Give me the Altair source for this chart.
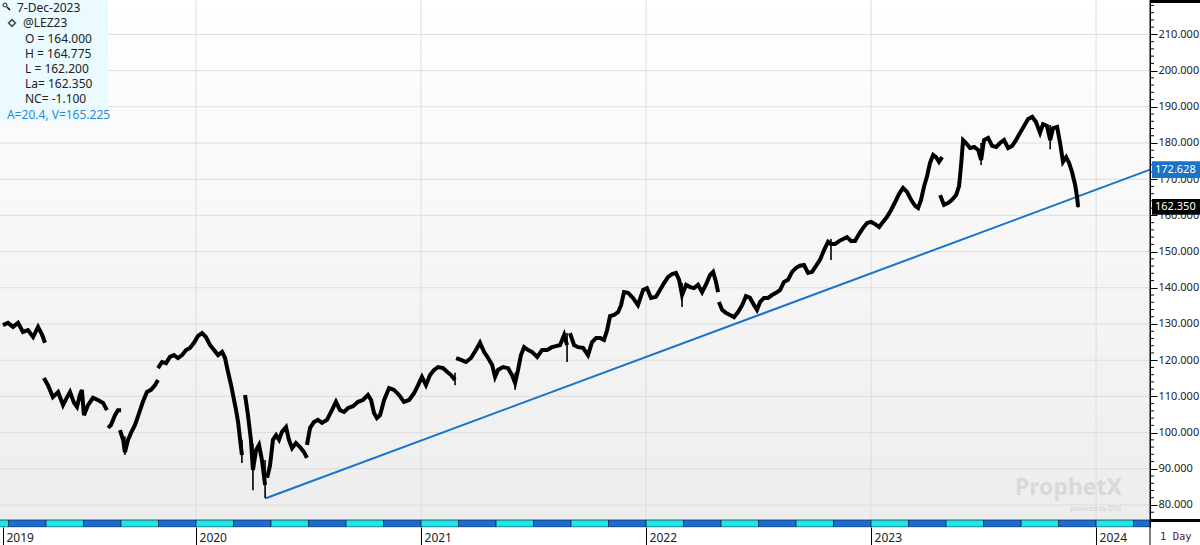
import altair as alt
import pandas as pd

# ---------------- data (decimal year, price) ----------------
seg_t = [
    [2019.142, 2019.164, 2019.187, 2019.209, 2019.231, 2019.253, 2019.276, 2019.298, 2019.316, 2019.329],
    [2019.324, 2019.342, 2019.364, 2019.387, 2019.409, 2019.427, 2019.440, 2019.458, 2019.471, 2019.484,
     2019.493, 2019.502, 2019.520, 2019.542, 2019.564, 2019.587, 2019.604],
    [2019.609, 2019.622, 2019.640, 2019.653, 2019.667],
    [2019.662, 2019.676, 2019.684, 2019.698, 2019.711, 2019.729, 2019.747, 2019.764, 2019.782, 2019.800,
     2019.818, 2019.831],
    [2019.831, 2019.849, 2019.867, 2019.884, 2019.902, 2019.920, 2019.938, 2019.956, 2019.973, 2019.991,
     2020.009, 2020.027, 2020.044, 2020.062, 2020.080, 2020.098, 2020.116, 2020.129, 2020.142, 2020.156,
     2020.169, 2020.178, 2020.187, 2020.196, 2020.204],
    [2020.218, 2020.231, 2020.244, 2020.253, 2020.267, 2020.280, 2020.293, 2020.307],
    [2020.316, 2020.329, 2020.342, 2020.356, 2020.369, 2020.382, 2020.400, 2020.413, 2020.427, 2020.444,
     2020.462, 2020.480, 2020.493],
    [2020.493, 2020.507, 2020.524, 2020.542, 2020.560, 2020.582, 2020.604, 2020.622, 2020.640, 2020.658,
     2020.676, 2020.698, 2020.720, 2020.742, 2020.764, 2020.778, 2020.791, 2020.804, 2020.818, 2020.836,
     2020.858, 2020.880, 2020.902, 2020.924, 2020.947, 2020.969, 2020.987, 2021.004, 2021.022, 2021.040,
     2021.058, 2021.076, 2021.098, 2021.116, 2021.133, 2021.151],
    [2021.156, 2021.178, 2021.200, 2021.222, 2021.244, 2021.262, 2021.280, 2021.298, 2021.316, 2021.329,
     2021.342, 2021.364, 2021.387, 2021.404, 2021.418, 2021.431, 2021.444, 2021.458, 2021.476, 2021.493,
     2021.516, 2021.538, 2021.560, 2021.582, 2021.600, 2021.618, 2021.636, 2021.649],
    [2021.662, 2021.680, 2021.698, 2021.720, 2021.742, 2021.760, 2021.778, 2021.796, 2021.813, 2021.827,
     2021.840, 2021.858, 2021.876, 2021.889, 2021.902, 2021.920, 2021.942, 2021.964, 2021.987, 2022.004,
     2022.022, 2022.044, 2022.062, 2022.080, 2022.098, 2022.116, 2022.133, 2022.147, 2022.160, 2022.178,
     2022.196, 2022.213, 2022.231, 2022.249, 2022.267, 2022.284, 2022.298, 2022.311, 2022.320],
    [2022.324, 2022.338, 2022.356, 2022.373, 2022.391, 2022.409, 2022.427, 2022.444, 2022.462, 2022.480,
     2022.493, 2022.507, 2022.524, 2022.542, 2022.560, 2022.578, 2022.596, 2022.613, 2022.631, 2022.649,
     2022.667, 2022.684, 2022.702, 2022.720, 2022.738, 2022.756, 2022.773, 2022.791, 2022.809, 2022.822,
     2022.840, 2022.858, 2022.876, 2022.893, 2022.911, 2022.929, 2022.947, 2022.964, 2022.982, 2023.000,
     2023.018, 2023.036, 2023.053, 2023.071, 2023.089, 2023.107, 2023.124, 2023.142, 2023.160, 2023.178,
     2023.196, 2023.209, 2023.222, 2023.236, 2023.249, 2023.262, 2023.276, 2023.289, 2023.302, 2023.316],
    [2023.307, 2023.324, 2023.342, 2023.360, 2023.378, 2023.391, 2023.400, 2023.409, 2023.422, 2023.440,
     2023.458, 2023.476, 2023.489, 2023.502, 2023.520, 2023.538, 2023.556, 2023.573, 2023.591, 2023.609,
     2023.627, 2023.644, 2023.662, 2023.680, 2023.698, 2023.716, 2023.733, 2023.751, 2023.764, 2023.782,
     2023.796, 2023.809, 2023.827, 2023.840, 2023.853, 2023.867, 2023.880, 2023.893, 2023.907, 2023.916,
     2023.920],
]
seg_v = [
    [129.7, 130.3, 129.2, 130.3, 127.8, 128.3, 126.4, 129.2, 127.0, 124.8],
    [115.1, 113.1, 109.8, 111.2, 107.6, 109.8, 111.2, 108.2, 107.1, 110.4,
     111.8, 104.8, 107.6, 109.6, 109.0, 108.2, 106.2],
    [101.3, 102.1, 104.8, 106.2, 106.2],
    [100.7, 98.0, 94.6, 98.0, 99.9, 102.1, 105.4, 108.5, 111.2, 111.8, 113.1, 114.5],
    [117.8, 119.5, 119.2, 120.9, 121.4, 120.6, 121.4, 122.8, 123.4, 124.8,
     126.7, 127.5, 126.4, 124.2, 122.8, 121.4, 122.3, 120.6, 116.8, 113.1,
     109.0, 106.2, 102.9, 98.0, 93.8],
    [110.4, 104.8, 98.0, 89.7, 95.2, 96.6, 92.4, 85.5],
    [87.5, 91.0, 98.0, 99.3, 98.0, 100.2, 101.5, 98.0, 95.7, 97.1, 96.0, 94.6, 93.0],
    [96.6, 101.3, 102.9, 103.5, 102.7, 103.5, 106.2, 108.5, 106.2, 105.7,
     106.8, 107.3, 108.5, 109.0, 110.4, 109.0, 105.4, 104.0, 104.8, 109.0,
     112.3, 111.8, 110.4, 108.5, 109.0, 110.9, 113.1, 115.4, 113.1, 115.9,
     117.3, 118.1, 117.8, 116.8, 115.9, 114.5],
    [120.6, 120.1, 119.5, 120.6, 122.8, 124.8, 122.3, 120.6, 118.7, 115.4,
     117.3, 118.1, 117.8, 115.9, 113.7, 117.3, 121.4, 123.6, 122.8, 122.3,
     120.9, 122.8, 122.8, 123.6, 123.9, 124.2, 127.0, 124.2],
    [127.5, 124.2, 123.6, 123.4, 121.4, 125.0, 126.1, 126.1, 125.6, 128.3,
     132.2, 132.5, 133.3, 135.2, 138.8, 138.6, 137.2, 135.2, 139.4, 139.9,
     137.2, 137.5, 139.4, 141.3, 143.0, 143.8, 144.1, 142.2, 138.0, 140.8,
     140.2, 139.9, 140.8, 138.8, 141.0, 143.5, 144.4, 141.6, 138.8],
    [136.1, 133.9, 133.0, 132.5, 131.9, 133.3, 135.2, 137.7, 137.2, 135.2,
     133.9, 136.1, 137.2, 137.2, 138.0, 138.6, 139.4, 141.6, 142.2, 144.4,
     145.5, 146.1, 146.3, 144.1, 144.4, 146.1, 147.7, 150.4, 152.7, 152.1,
     152.1, 152.9, 153.5, 154.0, 152.9, 152.9, 154.9, 156.5, 157.9, 158.2,
     157.6, 156.8, 158.2, 159.6, 161.5, 163.7, 165.9, 167.6, 166.5, 164.3,
     162.6, 162.0, 164.3, 168.1, 170.9, 174.5, 176.7, 176.1, 174.8, 176.1],
    [165.6, 162.9, 163.4, 164.3, 165.6, 168.1, 173.9, 180.8, 180.0, 178.6,
     178.9, 178.1, 175.3, 180.8, 181.4, 179.2, 178.9, 180.0, 180.8, 178.6,
     179.2, 180.8, 182.8, 184.7, 186.6, 187.2, 185.8, 182.8, 185.2, 184.7,
     180.8, 184.1, 184.4, 180.0, 174.8, 176.1, 174.5, 172.0, 168.4, 164.8,
     162.35],
]

spike_t = [2019.684, 2020.204, 2020.253, 2020.307, 2021.151, 2021.418, 2021.649,
           2022.160, 2022.822, 2023.489, 2023.796, 2023.920]
spike_lo = [93.8, 91.6, 84.1, 81.9, 113.1, 111.8, 119.5, 134.7, 147.7, 173.9, 178.3, 162.2]
spike_hi = [99.0, 98.0, 97.0, 92.4, 116.5, 116.5, 127.5, 141.3, 153.5, 180.0, 185.0, 164.8]

trend_t = [2020.307, 2024.2396]
trend_v = [81.8, 172.628]

y_ticks = [80, 90, 100, 110, 120, 130, 140, 150, 160, 170, 180, 190, 200, 210]
year_ticks = [2020, 2021, 2022, 2023, 2024]
x_label_values = [2019.142, 2020, 2021, 2022, 2023, 2024]

last_price = 162.35
trend_last = 172.628

info_lines = ["O = 164.000", "H = 164.775", "L = 162.200", "La= 162.350", "NC= -1.100"]

# ---------------- layout constants ----------------
W, H = 1150, 527
X_MIN, X_MAX = 2019.1289, 2024.2396
Y_MIN, Y_MAX = 73.92, 219.50
FONT = "Noto Sans"

xs = alt.Scale(domain=[X_MIN, X_MAX], nice=False, zero=False)
ys = alt.Scale(domain=[Y_MIN, Y_MAX], nice=False, zero=False)

x_axis = alt.Axis(
    values=x_label_values, labelExpr="'' + floor(datum.value)", orient="bottom",
    domain=False, grid=False, ticks=True, tickSize=18, tickColor="black", tickWidth=1,
    labelAlign="left", labelBaseline="middle", labelPadding=-8, labelOffset=3,
    labelFlush=False, labelFont=FONT, labelFontSize=12, labelColor="#222222", title=None,
)
y_axis = alt.Axis(
    orient="right", values=y_ticks, format=".3f", grid=False, domain=True,
    domainColor="black", domainWidth=1, tickColor="black", tickSize=7, tickWidth=1,
    labelPadding=1, labelFont=FONT, labelFontSize=11, labelColor="#222222", title=None,
    labelFlush=False, labelOverlap=False,
)


def X(field):
    return alt.X(field, scale=xs, axis=x_axis)


def Y(field):
    return alt.Y(field, scale=ys, axis=y_axis)


rows = []
for i, (ts, vs) in enumerate(zip(seg_t, seg_v)):
    for t, v in zip(ts, vs):
        rows.append({"seg": i, "t": t, "v": v})
price_df = pd.DataFrame(rows)
spike_df = pd.DataFrame({"t": spike_t, "lo": spike_lo, "hi": spike_hi})
trend_df = pd.DataFrame({"t": trend_t, "v": trend_v})
one = pd.DataFrame({"a": [0]})

# bi-monthly stripe calendar
stripe_rows = []
for k in range(33):
    t0 = 2019 + k / 6
    stripe_rows.append({"t0": t0, "t1": t0 + 1 / 6, "c": "#1c6cd6" if k % 2 else "#1ee6e6"})
stripe_df = pd.DataFrame(stripe_rows)

minor_df = pd.DataFrame({"v": [v for v in range(76, 220, 2) if v % 10]})

# ---------------- layers ----------------
bg = alt.Chart(one).mark_rect(
    color=alt.Gradient(
        gradient="linear",
        stops=[alt.GradientStop(color="#ffffff", offset=0),
               alt.GradientStop(color="#ededed", offset=1)],
        x1=0, x2=0, y1=0, y2=1,
    )
).encode(x=alt.value(0), x2=alt.value(W), y=alt.value(0), y2=alt.value(520))

hgrid = alt.Chart(pd.DataFrame({"v": y_ticks})).mark_rule(color="#dddddd", strokeWidth=1).encode(
    y=Y("v:Q"), x=alt.value(0), x2=alt.value(W)
)
vgrid = alt.Chart(pd.DataFrame({"t": year_ticks})).mark_rule(color="#dddddd", strokeWidth=1).encode(
    x=X("t:Q"), y=alt.value(0), y2=alt.value(520)
)

stripes = alt.Chart(stripe_df).mark_rect(stroke="#16324a", strokeWidth=0.8, clip=True).encode(
    x=X("t0:Q"), x2="t1",
    y=alt.value(520), y2=alt.value(527),
    color=alt.Color("c:N", scale=None),
)

price = alt.Chart(price_df).mark_line(color="black", strokeWidth=4, strokeJoin="miter").encode(
    x=X("t:Q"), y=Y("v:Q"), detail="seg:N",
)
spikes = alt.Chart(spike_df).mark_rule(color="black", strokeWidth=1.6).encode(
    x=X("t:Q"), y=Y("lo:Q"), y2="hi"
)
trend = alt.Chart(trend_df).mark_line(color="#1873cc", strokeWidth=2).encode(
    x=X("t:Q"), y=Y("v:Q")
)

minor = alt.Chart(minor_df).mark_rule(color="black").encode(
    y=Y("v:Q"), x=alt.value(W), x2=alt.value(W + 4)
)

deco = [
    alt.Chart(one).mark_rule(color="black", strokeWidth=1).encode(
        x=alt.value(W), y=alt.value(0), y2=alt.value(545)),
    alt.Chart(one).mark_rect(color="black").encode(
        x=alt.value(W), x2=alt.value(1200), y=alt.value(0), y2=alt.value(3)),
    alt.Chart(one).mark_rect(color="black").encode(
        x=alt.value(W), x2=alt.value(1200), y=alt.value(519), y2=alt.value(522)),
]

# value boxes on the right axis
box_df = pd.DataFrame({
    "v": [trend_last, last_price],
    "lo": [trend_last - 2.3, last_price - 2.2],
    "hi": [trend_last + 2.3, last_price + 2.2],
    "txt": [f"{trend_last:.3f}", f"{last_price:.3f}"],
    "c": ["#1a72c9", "#000000"],
})
boxes = alt.Chart(box_df).mark_rect().encode(
    y=Y("lo:Q"), y2="hi",
    x=alt.value(W + 2), x2=alt.value(1200),
    color=alt.Color("c:N", scale=None),
)
box_txt = alt.Chart(box_df).mark_text(
    align="left", baseline="middle", color="white", font=FONT, fontSize=11
).encode(y=Y("v:Q"), x=alt.value(W + 5), text="txt:N")


def label(text, x, y, color="#222222", size=12, weight="normal", align="left", font=FONT, baseline="middle"):
    return alt.Chart(one).mark_text(
        text=text, align=align, baseline=baseline, color=color, fontSize=size,
        fontWeight=weight, font=font
    ).encode(x=alt.value(x), y=alt.value(y))


info = [
    alt.Chart(one).mark_rect(color="#eafaff").encode(
        x=alt.value(0), x2=alt.value(108), y=alt.value(0), y2=alt.value(121)),
    alt.Chart(one).mark_point(shape="circle", filled=False, color="black", size=14, strokeWidth=1.2).encode(
        x=alt.value(5), y=alt.value(5)),
    alt.Chart(one).mark_rule(color="black", strokeWidth=1.5).encode(
        x=alt.value(7), x2=alt.value(10), y=alt.value(7), y2=alt.value(10)),
    label("7-Dec-2023", 17, 8),
    alt.Chart(one).mark_point(shape="diamond", filled=False, color="black", size=45, strokeWidth=1.6).encode(
        x=alt.value(12), y=alt.value(23)),
    label("@LEZ23", 23, 23),
]
for i, line in enumerate(info_lines):
    info.append(label(line, 25, 39 + i * 15))
info.append(label("A=20.4, V=165.225", 7, 115, color="#2f8ad8"))

extras = [
    label("1 Day", 1160, 537, color="#5a1a3e", size=10.5, font="DejaVu Sans Mono"),
    label("ProphetX", 1122, 495, color="#d9d9d9", size=23, weight="bold", align="right",
          baseline="alphabetic"),
    label("powered by DTN", 1121, 509, color="#cfcfcf", size=6.5, align="right"),
]

chart = alt.layer(
    bg, hgrid, vgrid, stripes, trend, price, spikes, minor, *deco, boxes, box_txt, *info, *extras
).properties(
    width=W, height=H,
    padding={"left": 0, "right": 50, "top": 0, "bottom": 18},
    autosize=alt.AutoSizeParams(type="none"),
).configure_view(stroke=None).configure(background="white")

chart.save("out.html", embed_options={"renderer": "svg", "actions": False})
